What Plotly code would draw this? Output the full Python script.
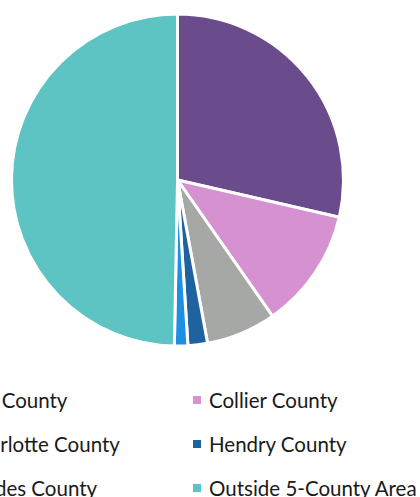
import plotly.graph_objects as go

labels = ["Lee County", "Collier County", "Charlotte County", "Hendry County",
          "Glades County", "Outside 5-County Area"]
values = [28.6, 11.7, 6.8, 1.9, 1.3, 49.7]
colors = ["#6A4C8C", "#D692D0", "#A6A8A6", "#1F62A0", "#1E8FE2", "#5EC3C3"]

W, H = 420, 497

fig = go.Figure(go.Pie(
    labels=labels, values=values, sort=False, direction="clockwise", rotation=0,
    marker=dict(colors=colors, line=dict(color="white", width=3)),
    textinfo="none", showlegend=False,
    domain=dict(x=[11.5 / W, 343.5 / W], y=[(H - 346) / H, (H - 14) / H]),
))

# manual legend: 2 columns, row-major, left column partly cropped off the image
col_x = [-37, 207]      # text left edge in px
row_y = [400, 444, 488]  # text middle in px (from top)
shapes, annotations = [], []
for i, (lab, col) in enumerate(zip(labels, colors)):
    r, c = divmod(i, 2)
    tx, ty = col_x[c], row_y[r]
    shapes.append(dict(type="rect", xref="paper", yref="paper",
                       x0=(tx - 14) / W, x1=(tx - 6) / W,
                       y0=(H - ty - 4) / H, y1=(H - ty + 4) / H,
                       fillcolor=col, line=dict(width=0)))
    annotations.append(dict(text=lab, xref="paper", yref="paper",
                            x=tx / W, y=(H - ty) / H, xanchor="left", yanchor="middle",
                            showarrow=False, font=dict(size=20.5, color="#1a1a1a")))

fig.update_layout(
    width=W, height=H, margin=dict(l=0, r=0, t=0, b=0),
    paper_bgcolor="white", plot_bgcolor="white",
    font=dict(family="Lato, Noto Sans, sans-serif"),
    shapes=shapes, annotations=annotations,
)
fig.write_html("out.html", config={"displayModeBar": False},
               post_script="document.body.style.margin='0';document.body.style.overflow='hidden';")
